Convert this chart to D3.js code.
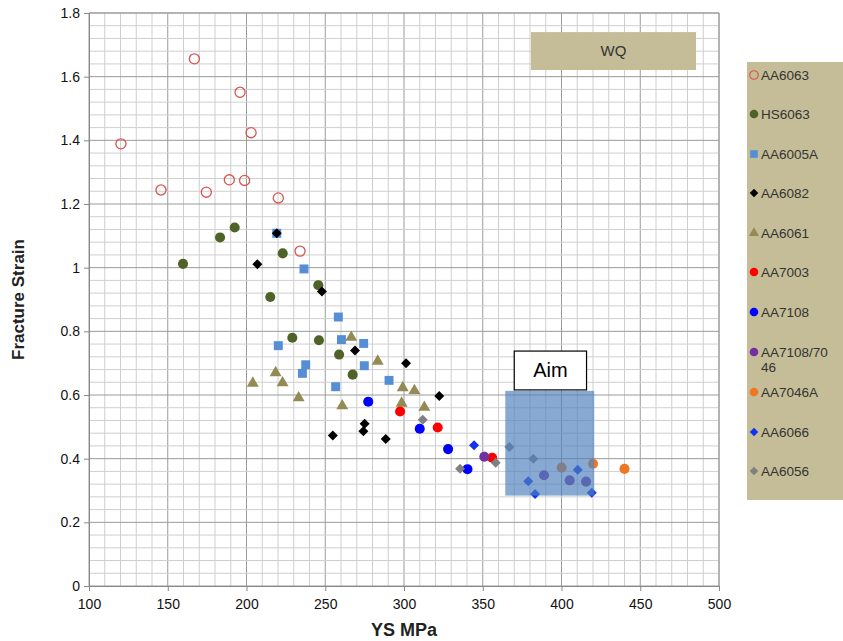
<!DOCTYPE html>
<html><head><meta charset="utf-8">
<script src="https://cdn.jsdelivr.net/npm/d3@7"></script>
<style>body{margin:0;background:#fff}svg{display:block}text{font-family:"Liberation Sans",Arial,sans-serif}</style>
</head><body><svg id="c" width="843" height="641"></svg>
<script>
// ---- data (YS MPa, fracture strain) ----
const aa6063 = [[166.9,1.656],[195.9,1.551],[202.9,1.424],[120.3,1.389],[145.7,1.244],[174.5,1.237],[189.1,1.276],[198.8,1.274],[220.2,1.219],[234,1.052]];
const hs6063 = [[159.7,1.012],[183.2,1.095],[192.5,1.126],[223,1.045],[245.6,0.945],[215.1,0.908],[229.1,0.78],[246,0.772],[258.8,0.727],[267.4,0.664]];
const aa6005a = [[219.2,1.108],[236.5,0.996],[258.3,0.845],[260.3,0.774],[220.2,0.755],[237.6,0.695],[235.5,0.668],[256.6,0.626],[274.4,0.762],[274.8,0.692],[290.5,0.646]];
const aa6082 = [[219.2,1.108],[206.9,1.011],[247.9,0.925],[268.9,0.74],[301.3,0.7],[322.4,0.597],[275,0.51],[274.2,0.486],[254.8,0.473],[288.4,0.462]];
const aa6061 = [[204,0.637],[218.5,0.67],[222.9,0.638],[233.1,0.591],[260.8,0.566],[266.5,0.781],[283.3,0.706],[299.2,0.623],[306.6,0.614],[298.5,0.574],[312.9,0.561]];
const aa7003 = [[297.5,0.548],[321.4,0.498],[356,0.403]];
const aa7108 = [[277.3,0.579],[310,0.494],[328,0.43],[340.3,0.367]];
const aa7108_7046 = [[351,0.406],[388.9,0.348],[405.2,0.332],[415.6,0.328]];
const aa7046a = [[400.1,0.372],[420,0.384],[440,0.368]];
const aa6066 = [[344.5,0.442],[378.9,0.329],[383.2,0.289],[410.3,0.365],[419.2,0.293]];
const aa6056 = [[311.9,0.522],[335.6,0.368],[358.2,0.387],[366.9,0.437],[382.1,0.4]];

const seriesNames = ["AA6063","HS6063","AA6005A","AA6082","AA6061","AA7003","AA7108","AA7108/7046","AA7046A","AA6066","AA6056"];
const seriesData = [aa6063,hs6063,aa6005a,aa6082,aa6061,aa7003,aa7108,aa7108_7046,aa7046a,aa6066,aa6056];
const xTicks = [100,150,200,250,300,350,400,450,500];
const yTicks = [0,0.2,0.4,0.6,0.8,1,1.2,1.4,1.6,1.8];
// annotation boxes in data units [x0,x1,y0,y1]
const aimBox = [364.3,420.8,0.284,0.613];
const aimLabelBox = [370,415.9,0.616,0.738];
const wqBox = [380.6,485.4,1.621,1.74];

// ---- styles ----
const styles = {
  "AA6063":{shape:"circle",fill:"none",stroke:"#D9544F"},
  "HS6063":{shape:"circle",fill:"#4F6228"},
  "AA6005A":{shape:"square",fill:"#558ED5"},
  "AA6082":{shape:"diamond",fill:"#000000"},
  "AA6061":{shape:"triangle",fill:"#948A54"},
  "AA7003":{shape:"circle",fill:"#FF0000"},
  "AA7108":{shape:"circle",fill:"#0000FF"},
  "AA7108/7046":{shape:"circle",fill:"#7030A0"},
  "AA7046A":{shape:"circle",fill:"#EE7722"},
  "AA6066":{shape:"diamond",fill:"#1133EE"},
  "AA6056":{shape:"diamond",fill:"#808080"}
};

const svg = d3.select("#c");
const x = d3.scaleLinear().domain([100,500]).range([89,719]);
const y = d3.scaleLinear().domain([0,1.8]).range([586,13]);

// grid
const g = svg.append("g");
g.selectAll("line.vmin").data(d3.range(100,501,10)).join("line")
  .attr("x1",d=>x(d)).attr("x2",d=>x(d)).attr("y1",y(0)).attr("y2",y(1.8))
  .attr("stroke",d=>d%50===0?"#9a9a9a":"#cfcfcf").attr("stroke-width",1);
g.selectAll("line.hmin").data(d3.range(0,46).map(i=>i*0.04)).join("line")
  .attr("x1",x(100)).attr("x2",x(500)).attr("y1",d=>y(d)).attr("y2",d=>y(d))
  .attr("stroke",(d,i)=>i%5===0?"#9a9a9a":"#cfcfcf").attr("stroke-width",1);

// WQ box
svg.append("rect").attr("x",x(wqBox[0])).attr("y",y(wqBox[3]))
  .attr("width",x(wqBox[1])-x(wqBox[0])).attr("height",y(wqBox[2])-y(wqBox[3]))
  .attr("fill","#C4BD97");
svg.append("text").attr("x",(x(wqBox[0])+x(wqBox[1]))/2).attr("y",(y(wqBox[2])+y(wqBox[3]))/2+5)
  .attr("text-anchor","middle").attr("font-size",15).attr("fill","#333").text("WQ");

function symPath(shape){
  if(shape==="circle") return d3.symbol(d3.symbolCircle,80)();
  if(shape==="square") return d3.symbol(d3.symbolSquare,80)();
  if(shape==="triangle") return d3.symbol(d3.symbolTriangle,62)();
  if(shape==="diamond"){ const s = 5; return `M0,${-s}L${s},0L0,${s}L${-s},0Z`; }
}

// points
seriesNames.forEach((name,i)=>{
  const st = styles[name];
  svg.append("g").selectAll("path").data(seriesData[i]).join("path")
    .attr("d",symPath(st.shape))
    .attr("transform",d=>`translate(${x(d[0])},${y(d[1])})`)
    .attr("fill",st.fill).attr("stroke",st.stroke||"none").attr("stroke-width",st.stroke?1.3:0);
});

// Aim box (semi-transparent, on top)
svg.append("rect").attr("x",x(aimBox[0])).attr("y",y(aimBox[3]))
  .attr("width",x(aimBox[1])-x(aimBox[0])).attr("height",y(aimBox[2])-y(aimBox[3]))
  .attr("fill","#4F81BD").attr("opacity",0.68);
svg.append("rect").attr("x",x(aimLabelBox[0])).attr("y",y(aimLabelBox[3]))
  .attr("width",x(aimLabelBox[1])-x(aimLabelBox[0])).attr("height",y(aimLabelBox[2])-y(aimLabelBox[3]))
  .attr("fill","#fff").attr("stroke","#000").attr("stroke-width",1.2);
svg.append("text").attr("x",(x(aimLabelBox[0])+x(aimLabelBox[1]))/2).attr("y",(y(aimLabelBox[2])+y(aimLabelBox[3]))/2+7)
  .attr("text-anchor","middle").attr("font-size",20).attr("fill","#000").text("Aim");

// axes
const xAxis = svg.append("g").attr("transform",`translate(0,${y(0)})`)
  .call(d3.axisBottom(x).tickValues(xTicks).tickSize(5).tickFormat(d3.format("d")));
const yAxis = svg.append("g").attr("transform",`translate(${x(100)},0)`)
  .call(d3.axisLeft(y).tickValues(yTicks).tickSize(5).tickFormat(d=>d===0||d===1?String(d):d3.format(".1f")(d)));
[xAxis,yAxis].forEach(a=>{
  a.select(".domain").attr("stroke","#888");
  a.selectAll(".tick line").attr("stroke","#888");
  a.selectAll("text").attr("font-family","'Liberation Sans',Arial,sans-serif").attr("font-size",14).attr("fill","#111");
});
xAxis.selectAll("text").attr("dy","1.1em");
yAxis.selectAll("text").attr("x",-9);
// right/top frame
svg.append("line").attr("x1",x(500)).attr("x2",x(500)).attr("y1",y(0)).attr("y2",y(1.8)).attr("stroke","#9a9a9a");
svg.append("line").attr("x1",x(100)).attr("x2",x(500)).attr("y1",y(1.8)).attr("y2",y(1.8)).attr("stroke","#9a9a9a");

// axis titles
svg.append("text").attr("x",x(300)).attr("y",636).attr("text-anchor","middle")
  .attr("font-size",18).attr("font-weight","bold").attr("fill","#222").text("YS MPa");
svg.append("text").attr("transform",`translate(24,${y(0.9)}) rotate(-90)`).attr("text-anchor","middle")
  .attr("font-size",17).attr("font-weight","bold").attr("fill","#222").text("Fracture Strain");

// legend
const leg = svg.append("g");
leg.append("rect").attr("x",747).attr("y",62).attr("width",96).attr("height",438).attr("fill","#C4BD97");
const legY = [75,114,154,193,233,272,312,352,392,432,471];
seriesNames.forEach((name,i)=>{
  const st = styles[name];
  leg.append("path").attr("d",symPath(st.shape))
    .attr("transform",`translate(754,${legY[i]}) scale(0.85)`)
    .attr("fill",st.fill).attr("stroke",st.stroke||"none").attr("stroke-width",st.stroke?1.3:0);
  const t = leg.append("text").attr("x",761).attr("y",legY[i]+5).attr("font-size",13.5).attr("fill","#333");
  if(name==="AA7108/7046"){
    t.append("tspan").text("AA7108/70");
    t.append("tspan").attr("x",761).attr("dy",15).text("46");
  } else t.text(name);
});
</script></body></html>
